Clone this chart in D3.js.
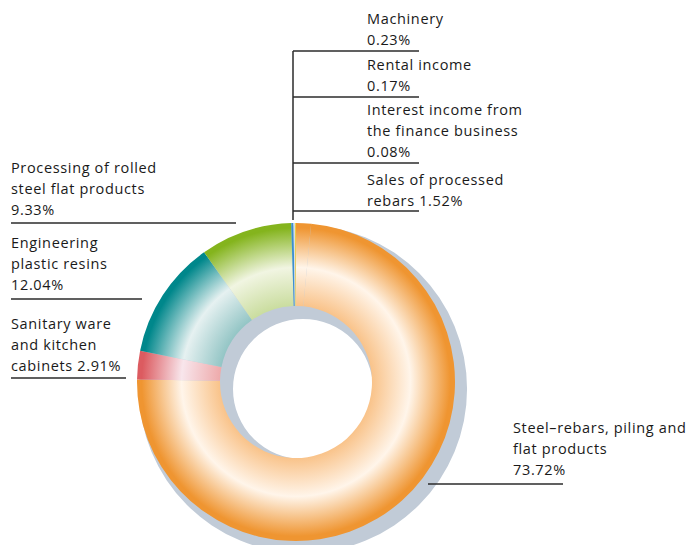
<!DOCTYPE html>
<html lang="en">
<head>
  <meta charset="utf-8" />
  <script src="https://d3js.org/d3.v7.min.js"></script>
  <style>
    body { margin: 0; background: #fff; }
    text { font-family: "Open Sans", "Noto Sans", sans-serif; font-size: 14.5px; letter-spacing: 0.65px; fill: #1a1a1a; }
  </style>
</head>
<body>
<svg width="691" height="545"></svg>
<script>
// slices in clockwise order starting at 12 o'clock
var categories = ["Sales of processed rebars", "Steel–rebars, piling and flat products",
  "Sanitary ware and kitchen cabinets", "Engineering plastic resins",
  "Processing of rolled steel flat products", "Machinery", "Rental income",
  "Interest income from the finance business"];
var shares = [1.52, 73.72, 2.91, 12.04, 9.33, 0.23, 0.17, 0.08];
var labelLines = [
  ["Sales of processed", "rebars 1.52%"],
  ["Steel\u2013rebars, piling and", "flat products", "73.72%"],
  ["Sanitary ware", "and kitchen", "cabinets 2.91%"],
  ["Engineering", "plastic resins", "12.04%"],
  ["Processing of rolled", "steel flat products", "9.33%"],
  ["Machinery", "0.23%"],
  ["Rental income", "0.17%"],
  ["Interest income from", "the finance business", "0.08%"]
];

// colours: [inner, middle, outer]
var palette = [
  ["#f9c38a", "#fff5ea", "#ef9531"],
  ["#f9c38a", "#fff5ea", "#ef9531"],
  ["#eeaaab", "#f8e6ec", "#dc5b60"],
  ["#93c5c5", "#e6f1f1", "#00878b"],
  ["#cadd9f", "#f1f5e2", "#84b41d"],
  ["#3a8fd0", "#3a8fd0", "#3a8fd0"],
  ["#d8dde4", "#d8dde4", "#d8dde4"],
  ["#f3cf1c", "#f3cf1c", "#f3cf1c"]
];

// label layout: text x, first baseline, underline y, underline x range
var labelLayout = [
  {x: 367, y: 185, ly: 211, x0: 293, x1: 419},
  {x: 513, y: 433, ly: 484, x0: 428, x1: 563},
  {x: 11, y: 329, ly: 378, x0: 11, x1: 126},
  {x: 11, y: 248, ly: 299, x0: 11, x1: 142},
  {x: 11, y: 173, ly: 223, x0: 11, x1: 236},
  {x: 367, y: 24, ly: 51, x0: 293, x1: 419},
  {x: 367, y: 70, ly: 97, x0: 293, x1: 419},
  {x: 367, y: 115, ly: 163, x0: 293, x1: 419}
];

var cx = 296, cy = 382, rOuter = 159, rInner = 76, lineH = 21;

var svg = d3.select("svg");
var defs = svg.append("defs");

// radial gradients, centred on the ring's own origin
palette.forEach(function(c, i) {
  var g = defs.append("radialGradient")
    .attr("id", "g" + i)
    .attr("gradientUnits", "userSpaceOnUse")
    .attr("cx", 0).attr("cy", 0).attr("r", rOuter);
  g.append("stop").attr("offset", rInner / rOuter).attr("stop-color", c[0]);
  g.append("stop").attr("offset", 0.72).attr("stop-color", c[1]);
  g.append("stop").attr("offset", 0.97).attr("stop-color", c[2]);
  g.append("stop").attr("offset", 1).attr("stop-color", c[2]);
});

// shadow ring
var shadowArc = d3.arc().innerRadius(70).outerRadius(164).startAngle(0).endAngle(2 * Math.PI);
svg.append("path")
  .attr("transform", "translate(" + (cx + 7) + "," + (cy + 7) + ")")
  .attr("d", shadowArc())
  .attr("fill", "#c1cbd7");

var pie = d3.pie().sort(null).value(function(d) { return d; });
var arc = d3.arc().innerRadius(rInner).outerRadius(rOuter);

svg.append("g")
  .attr("transform", "translate(" + cx + "," + cy + ")")
  .selectAll("path")
  .data(pie(shares))
  .enter()
  .append("path")
  .attr("d", arc)
  .attr("fill", function(d, i) { return "url(#g" + i + ")"; });

// leader lines
var lines = svg.append("g").attr("stroke", "#2b2b2b").attr("stroke-width", 1.5);
lines.append("line").attr("x1", 293).attr("x2", 293).attr("y1", 51).attr("y2", 220);
labelLayout.forEach(function(p) {
  lines.append("line").attr("x1", p.x0).attr("x2", p.x1).attr("y1", p.ly).attr("y2", p.ly);
});

// labels
labelLines.forEach(function(ls, i) {
  var p = labelLayout[i];
  var t = svg.append("text").attr("x", p.x).attr("y", p.y);
  ls.forEach(function(s, j) {
    t.append("tspan").attr("x", p.x).attr("dy", j === 0 ? 0 : lineH).text(s);
  });
});
</script>
</body>
</html>
